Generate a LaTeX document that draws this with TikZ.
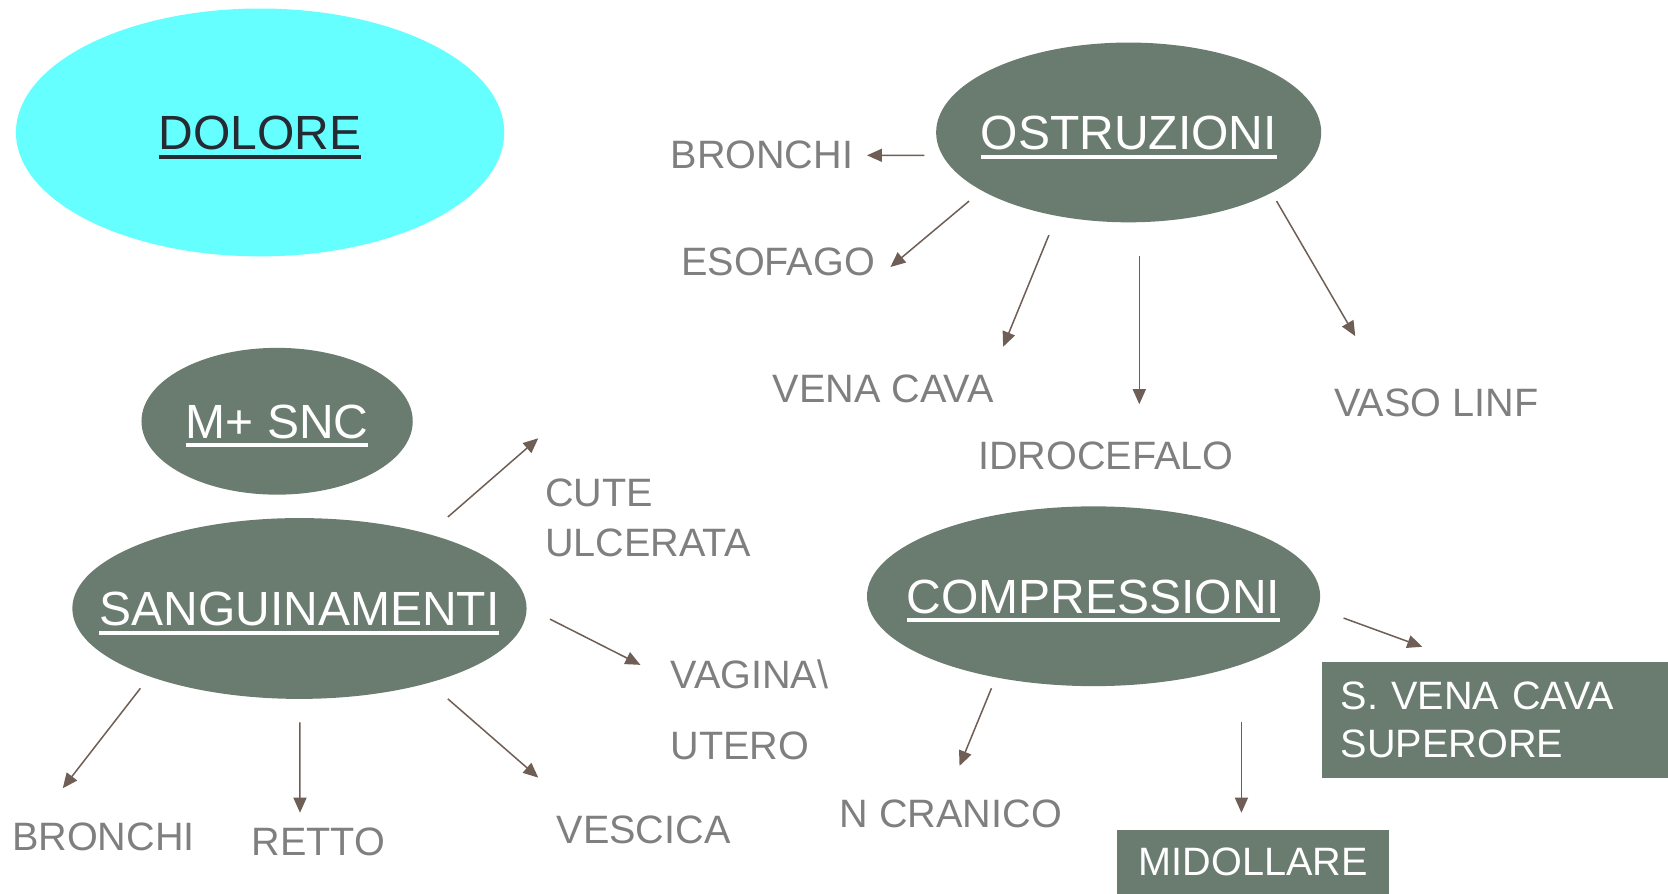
\documentclass[tikz,border=0pt]{standalone}
\usepackage{fontspec}
\setmainfont{Liberation Sans}
\usetikzlibrary{shapes.geometric,arrows.meta,calc}
\definecolor{nodegreen}{HTML}{6A7C70}
\definecolor{cyanfill}{HTML}{66FFFF}
\definecolor{darktext}{HTML}{262A33}
\definecolor{labelgray}{HTML}{7F7F7F}
\definecolor{arrowcol}{HTML}{6E5E55}
\newsavebox\ulbox
\newcommand\ulx[1]{\makebox[0pt]{\sbox\ulbox{#1}\rlap{\rule[-4.5pt]{\wd\ulbox}{2pt}}\usebox\ulbox}}
\def\u{0.5319pt}
\begin{document}
\begin{tikzpicture}[x=0.5319pt,y=-0.5319pt,
  ellbase/.style={ellipse, inner sep=0, font=\fontsize{24pt}{28pt}\selectfont, text height=17.2pt, text depth=0pt},
  greenell/.style={ellbase, fill=nodegreen, text=white},
  cyanell/.style={ellbase, fill=cyanfill, text=darktext},
  lab/.style={inner sep=0, text=labelgray, font=\fontsize{19.8pt}{23pt}\selectfont, anchor=west, text height=14.2pt, text depth=0pt},
  mlab/.style={inner sep=0, text=labelgray, anchor=north west, align=left},
  greenbox/.style={rectangle, fill=nodegreen, text=white, font=\fontsize{19.8pt}{24pt}\selectfont},
  arr/.style={draw=arrowcol, line width=0.75pt, -{Triangle[length=7.5pt,width=6.5pt]}}
]
\path[use as bounding box] (0,0) rectangle (1568,840);

% ellipses
\node[cyanell, minimum width=459*\u, minimum height=233*\u] (dolore) at (244.5,124.5) {\ulx{DOLORE}};
\node[greenell, minimum width=362*\u, minimum height=169*\u] (ostr) at (1061,124.5) {\ulx{OSTRUZIONI}};
\node[greenell, minimum width=255*\u, minimum height=138*\u] (msnc) at (260.5,396) {\ulx{M+ SNC}};
\node[greenell, minimum width=427*\u, minimum height=170*\u] (sang) at (281.5,572) {\ulx{SANGUINAMENTI}};
\node[greenell, minimum width=426*\u, minimum height=169*\u] (comp) at (1028,560.5) {\ulx{COMPRESSIONI}};

% labels
\node[lab] (bronchiA) at (630,145) {BRONCHI};
\node[lab] (esofago) at (640,246) {ESOFAGO};
\node[lab] (venacava) at (726,365) {VENA CAVA};
\node[lab] (idro) at (919,428) {IDROCEFALO};
\node[lab] (vaso) at (1254,378) {VASO LINF};
\node[mlab, font=\fontsize{19.8pt}{25pt}\selectfont] (cute) at (512,450) {CUTE\\ULCERATA};
\node[mlab, font=\fontsize{19.8pt}{35.6pt}\selectfont] (vagina) at (630,620) {VAGINA\textbackslash\\UTERO};
\node[lab] (bronchiB) at (11,786) {BRONCHI};
\node[lab] (retto) at (236,791) {RETTO};
\node[lab] (vescica) at (523,780) {VESCICA};
\node[lab] (ncranico) at (789,765) {N CRANICO};

% boxes
\node[greenbox, anchor=north west, align=left, text width=290*\u, inner xsep=18*\u, minimum height=109*\u] (svc) at (1242,622) {S. VENA CAVA\\SUPERORE};
\node[greenbox, minimum width=256*\u, minimum height=60*\u, text height=14.2pt, text depth=0pt, inner sep=0] (mid) at (1178,810) {MIDOLLARE};

% arrows from OSTRUZIONI
\draw[arr] ($(ostr)+(-192,21.5)$) -- ($(bronchiA.west)+(185,1)$);
\draw[arr] ($(ostr)+(-150,64.5)$) -- ($(esofago.west)+(197,5)$);
\draw[arr] ($(ostr)+(-75,96.5)$) -- ($(venacava.west)+(217,-39)$);
\draw[arr] ($(ostr)+(10,116.5)$) -- ($(idro.west)+(152,-48)$);
\draw[arr] ($(ostr)+(139,64.5)$) -- ($(vaso.west)+(20,-62)$);
% arrows from SANGUINAMENTI
\draw[arr] ($(sang)+(139.5,-86)$) -- ($(cute.north west)+(-6,-38)$);
\draw[arr] ($(sang)+(235.5,10)$) -- ($(vagina.north west)+(-28,5)$);
\draw[arr] ($(sang)+(139.5,85)$) -- ($(vescica.west)+(-17,-49)$);
\draw[arr] ($(sang)+(-149.5,75)$) -- ($(bronchiB.west)+(48,-45)$);
\draw[arr] ($(sang)+(0.5,107)$) -- ($(retto.west)+(46,-27)$);
% arrows from COMPRESSIONI
\draw[arr] ($(comp)+(-96,86.5)$) -- ($(ncranico.west)+(113,-45)$);
\draw[arr] ($(comp)+(139,118.5)$) -- ($(mid)+(-11,-46)$);
\draw[arr] ($(comp)+(235,20.5)$) -- ($(svc.north west)+(95,-14)$);
\end{tikzpicture}
\end{document}
